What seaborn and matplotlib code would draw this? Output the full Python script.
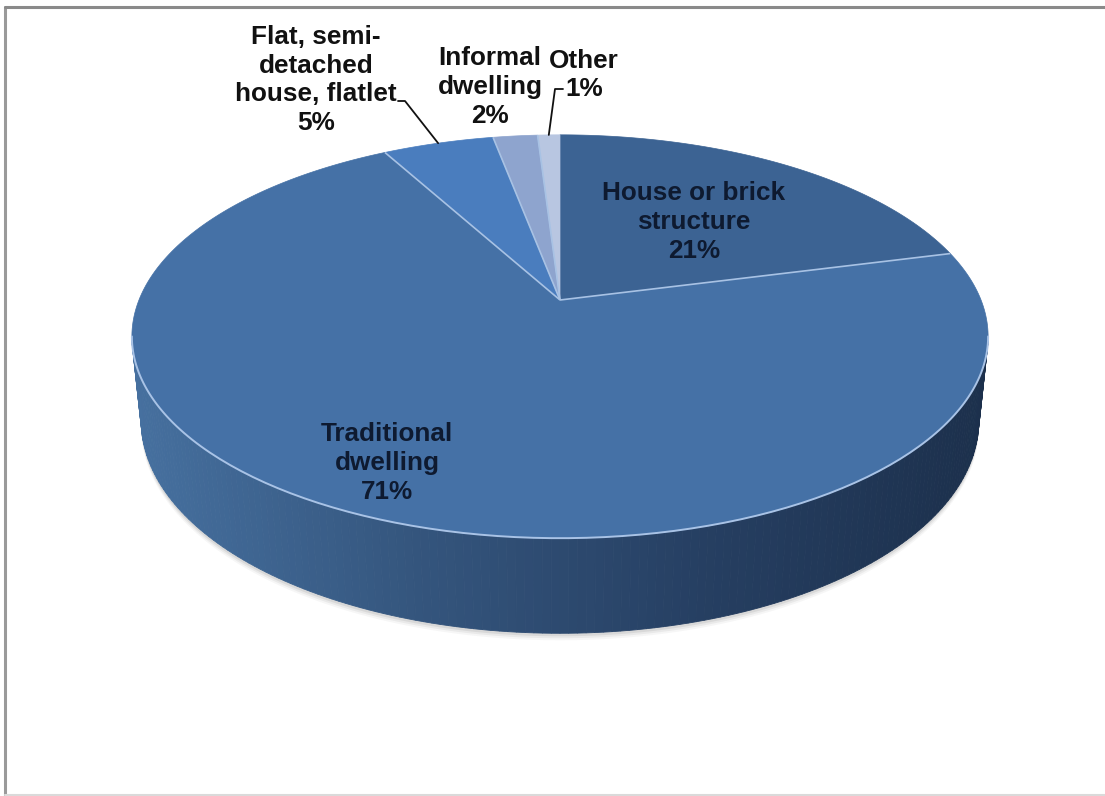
import numpy as np
import matplotlib
matplotlib.use("Agg")
import matplotlib.pyplot as plt
from matplotlib.patches import Polygon
import seaborn as sns

# Dwelling types and their shares (percent)
categories = ["House or brick\nstructure", "Traditional\ndwelling",
              "Flat, semi-\ndetached\nhouse, flatlet", "Informal\ndwelling", "Other"]
shares = [21, 71, 5, 2, 1]
top_colors = ["#3C6393", "#4571A6", "#4A7DBE", "#8EA4CE", "#B8C6E1"]

sns.set_theme(style="white")
plt.rcParams["font.family"] = ["Liberation Sans", "DejaVu Sans"]

W, H = 1105, 796
fig = plt.figure(figsize=(W / 100, H / 100), dpi=100)
ax = fig.add_axes([0, 0, 1, 1])
ax.set_xlim(0, W)
ax.set_ylim(H, 0)
ax.axis("off")

# Perspective camera for a tilted disc
F, DIST, PHI, DEPTH = 2061.0, 4.895, np.radians(27.6), 0.228
CX, CY = 560.0, 300.0
cphi, sphi = np.cos(PHI), np.sin(PHI)


def project(x, y, z=0.0):
    x, y, z = np.asarray(x, float), np.asarray(y, float), np.asarray(z, float)
    up = y * sphi + z * cphi
    d = DIST + y * cphi - z * sphi
    return CX + F * x / d, CY - F * up / d


def rim(theta, z=0.0):
    # theta: clockwise angle from 12 o'clock (radians)
    return project(np.sin(theta), np.cos(theta), z)


# soft shadow under the base
a_front = np.radians(np.linspace(190.4, 349.6, 200))
bx, by = project(np.cos(a_front), np.sin(a_front), -DEPTH)
for k, al in zip([7, 5, 3], [0.05, 0.08, 0.11]):
    ax.add_patch(Polygon(np.column_stack([np.r_[bx, bx[::-1]],
                                          np.r_[by + k, by[::-1] - 20]]),
                         closed=True, facecolor="#555555", alpha=al,
                         edgecolor="none", zorder=1))

# side wall, shaded from lighter left to darker right
wall_pal = sns.blend_palette(["#46709F", "#34557D", "#263F62", "#1C304C"], n_colors=256)
n = 160
a_edges = np.radians(np.linspace(190.4, 349.6, n + 1))
tx, ty = project(np.cos(a_edges), np.sin(a_edges), 0.0)
bx2, by2 = project(np.cos(a_edges), np.sin(a_edges), -DEPTH)
xmin, xmax = tx.min(), tx.max()
for i in range(n):
    xm = 0.5 * (tx[i] + tx[i + 1])
    col = wall_pal[int(np.clip((xm - xmin) / (xmax - xmin), 0, 1) * 255)]
    quad = [(tx[i], ty[i]), (tx[i + 1], ty[i + 1]),
            (bx2[i + 1], by2[i + 1]), (bx2[i], by2[i])]
    ax.add_patch(Polygon(quad, closed=True, facecolor=col, edgecolor=col,
                         linewidth=0.6, zorder=2))

# top face slices (clockwise from 12 o'clock)
fracs = np.array(shares, float) / np.sum(shares)
bounds = np.r_[0, np.cumsum(fracs)] * 2 * np.pi
for i, col in enumerate(top_colors):
    th = np.linspace(bounds[i], bounds[i + 1], max(8, int(fracs[i] * 400)))
    px, py = rim(th)
    pts = np.column_stack([np.r_[CX, px], np.r_[CY, py]])
    ax.add_patch(Polygon(pts, closed=True, facecolor=col, edgecolor=col,
                         linewidth=0.5, zorder=3))

# slice boundary lines
for b in bounds[1:-1]:
    ex, ey = rim(b)
    ax.plot([CX, ex], [CY, ey], color="#A8C2E4", lw=1.2, zorder=4,
            solid_capstyle="butt")

# highlight along the front rim of the top face
ax.plot(tx, ty, color="#A9C3E6", lw=1.4, zorder=4)

# labels
label_xy = [(694, 222), (387, 463), (316, 80), (490, 87), (584, 75)]
inside = [True, True, False, False, False]
for name, val, (lx, ly), ins in zip(categories, shares, label_xy, inside):
    ax.text(lx, ly, f"{name}\n{val}%", ha="center", va="center",
            multialignment="center", fontsize=18.8, fontweight="bold",
            color="#0E1A30" if ins else "#111111", linespacing=1.26, zorder=6)

# leader lines for small slices
mid = 0.5 * (bounds[:-1] + bounds[1:])
fx, fy = rim(mid[2])
ax.plot([398, 405, fx], [101, 101, fy], color="#111111", lw=1.3, zorder=5)
ox, oy = rim(mid[4])
ax.plot([563, 555, ox], [89, 89, oy], color="#111111", lw=1.3, zorder=5)

# chart frame
ax.plot([5, 5], [7, 796], color="#9A9A9A", lw=2.2, zorder=7)
ax.plot([5, 1105], [7, 7], color="#8A8A8A", lw=2.2, zorder=7)
ax.plot([5, 1105], [795, 795], color="#DADADA", lw=1.5, zorder=7)

fig.savefig("out.png", dpi=100)
